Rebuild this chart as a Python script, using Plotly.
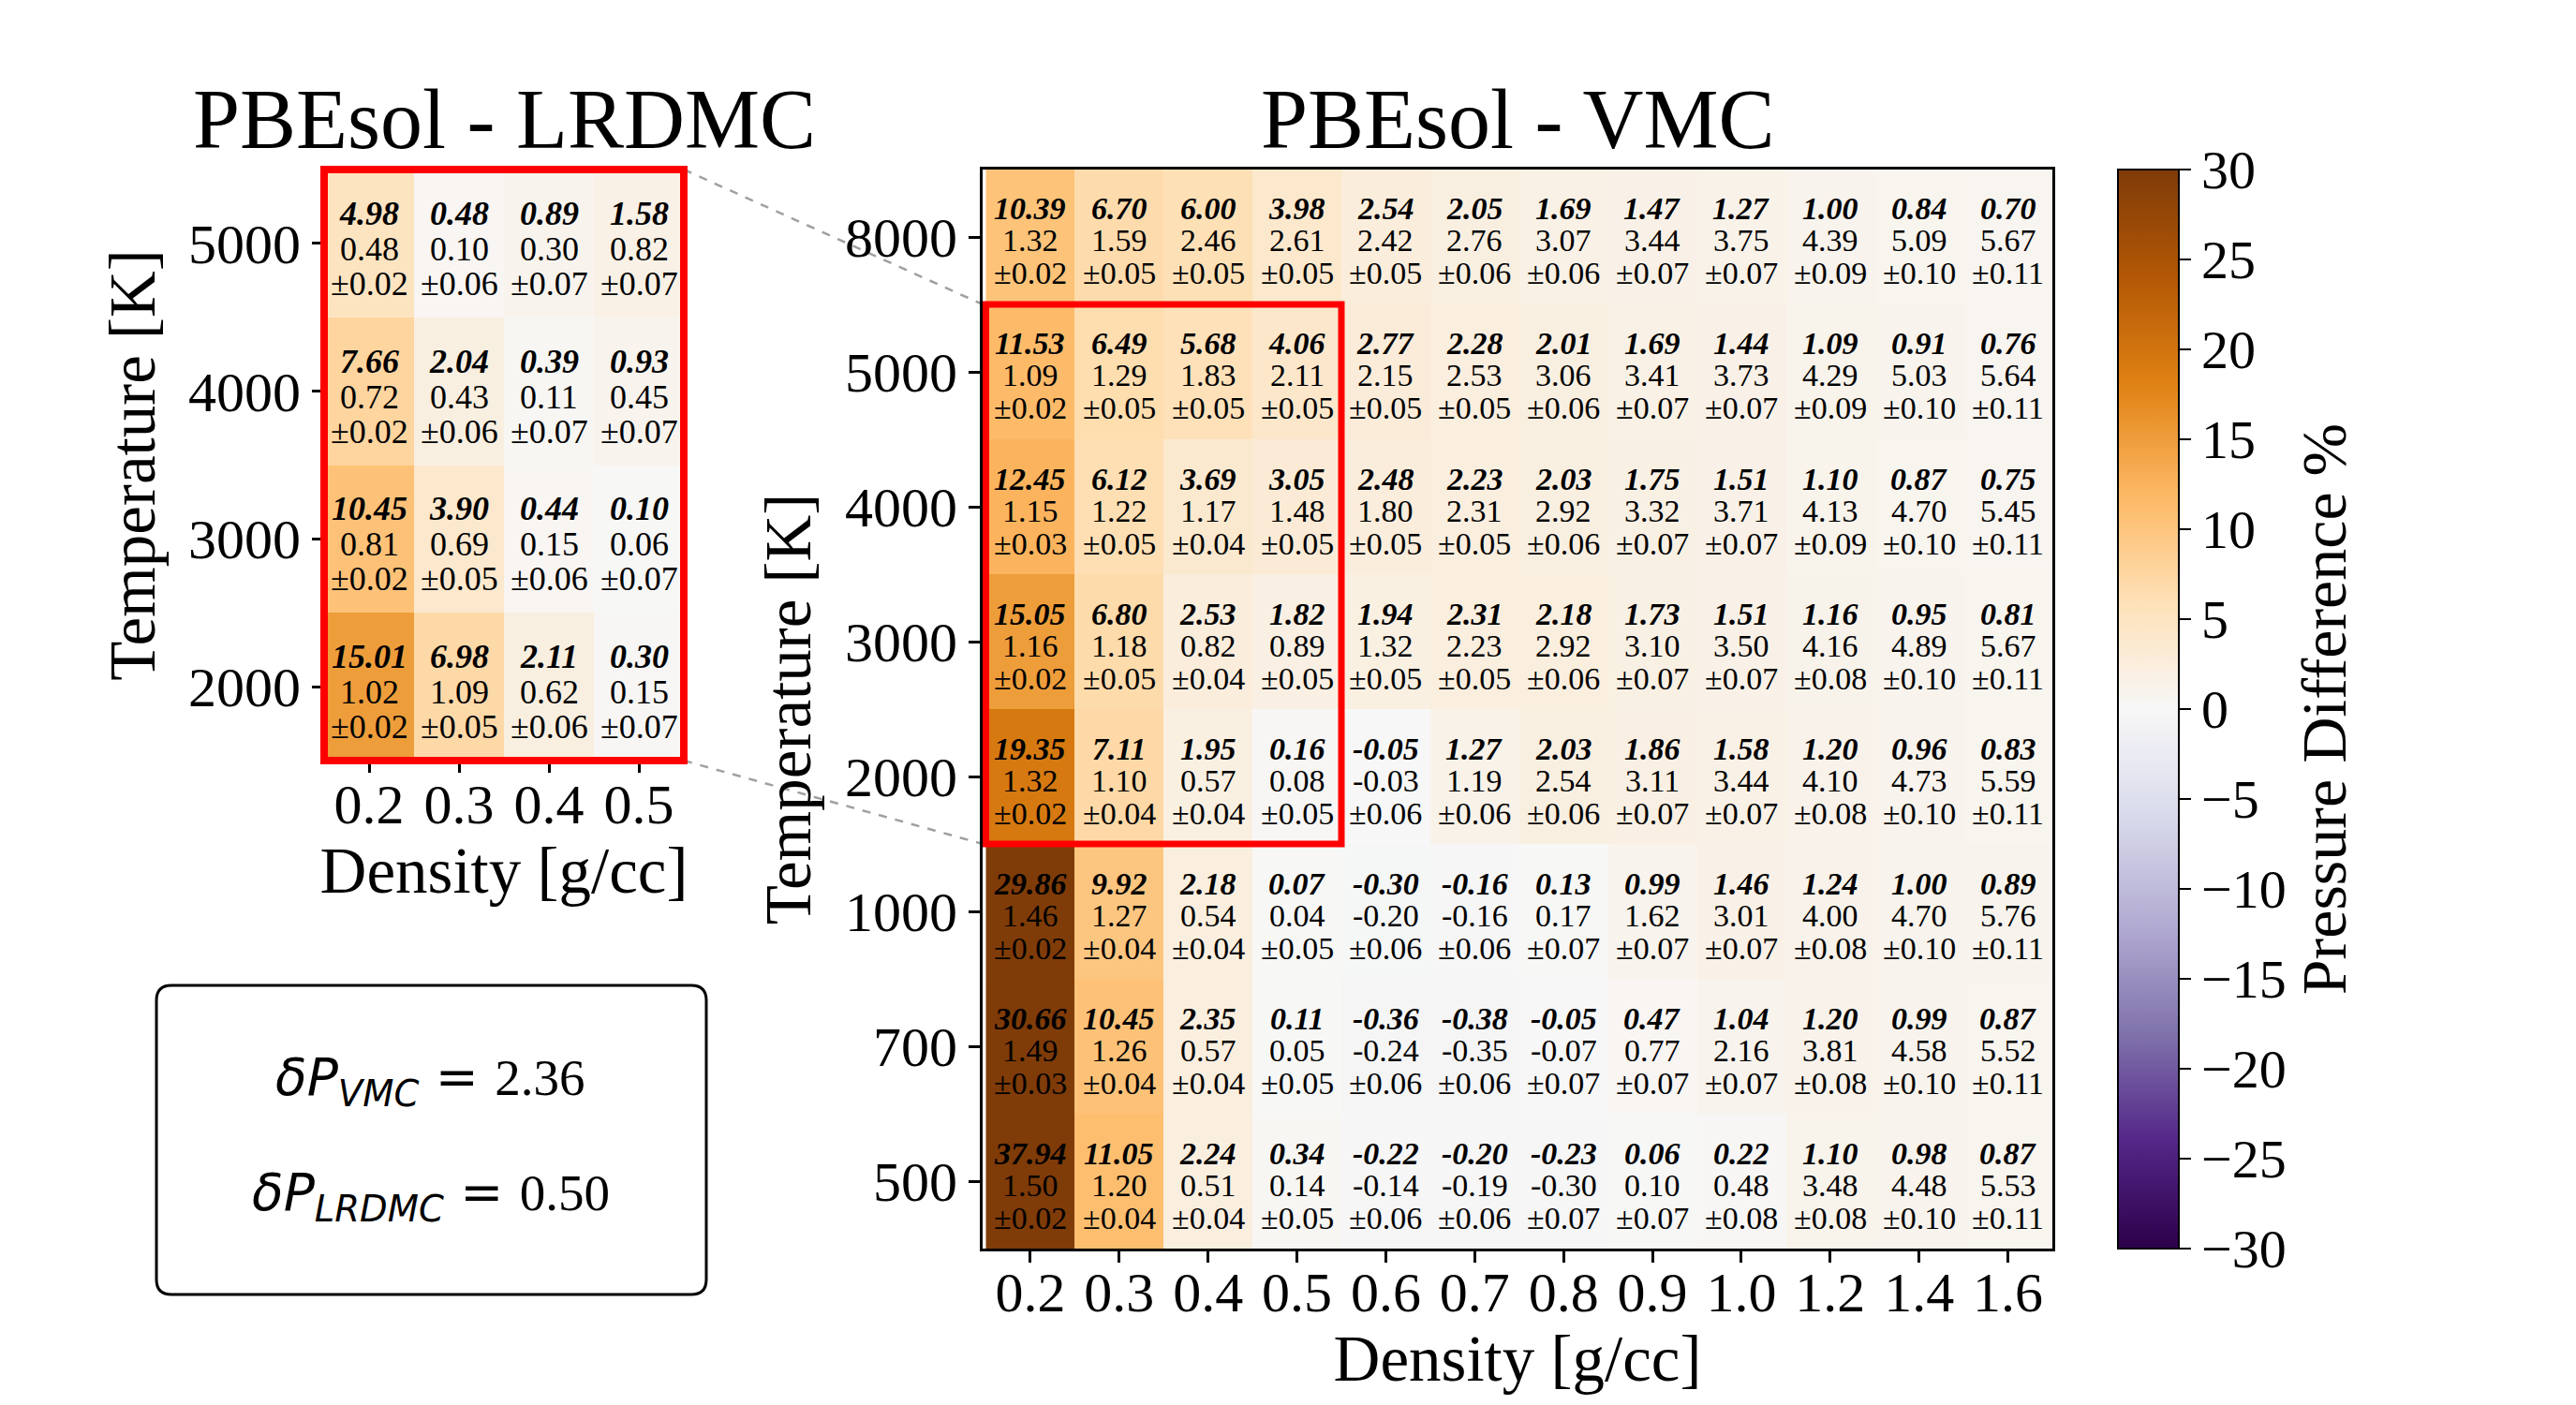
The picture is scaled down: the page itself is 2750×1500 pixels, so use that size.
import plotly.graph_objects as go

W, H = 2750, 1500
FONT = "Liberation Serif"

# ---- data -------------------------------------------------------------
density_main = ["0.2", "0.3", "0.4", "0.5", "0.6", "0.7", "0.8", "0.9", "1.0", "1.2", "1.4", "1.6"]
temps_main = ["8000", "5000", "4000", "3000", "2000", "1000", "700", "500"]

# pressure difference % (bold numbers, also the colour)
pdiff_main = [
    [10.39, 6.70, 6.00, 3.98, 2.54, 2.05, 1.69, 1.47, 1.27, 1.00, 0.84, 0.70],
    [11.53, 6.49, 5.68, 4.06, 2.77, 2.28, 2.01, 1.69, 1.44, 1.09, 0.91, 0.76],
    [12.45, 6.12, 3.69, 3.05, 2.48, 2.23, 2.03, 1.75, 1.51, 1.10, 0.87, 0.75],
    [15.05, 6.80, 2.53, 1.82, 1.94, 2.31, 2.18, 1.73, 1.51, 1.16, 0.95, 0.81],
    [19.35, 7.11, 1.95, 0.16, -0.05, 1.27, 2.03, 1.86, 1.58, 1.20, 0.96, 0.83],
    [29.86, 9.92, 2.18, 0.07, -0.30, -0.16, 0.13, 0.99, 1.46, 1.24, 1.00, 0.89],
    [30.66, 10.45, 2.35, 0.11, -0.36, -0.38, -0.05, 0.47, 1.04, 1.20, 0.99, 0.87],
    [37.94, 11.05, 2.24, 0.34, -0.22, -0.20, -0.23, 0.06, 0.22, 1.10, 0.98, 0.87],
]
# absolute difference (middle line)
absdiff_main = [
    [1.32, 1.59, 2.46, 2.61, 2.42, 2.76, 3.07, 3.44, 3.75, 4.39, 5.09, 5.67],
    [1.09, 1.29, 1.83, 2.11, 2.15, 2.53, 3.06, 3.41, 3.73, 4.29, 5.03, 5.64],
    [1.15, 1.22, 1.17, 1.48, 1.80, 2.31, 2.92, 3.32, 3.71, 4.13, 4.70, 5.45],
    [1.16, 1.18, 0.82, 0.89, 1.32, 2.23, 2.92, 3.10, 3.50, 4.16, 4.89, 5.67],
    [1.32, 1.10, 0.57, 0.08, -0.03, 1.19, 2.54, 3.11, 3.44, 4.10, 4.73, 5.59],
    [1.46, 1.27, 0.54, 0.04, -0.20, -0.16, 0.17, 1.62, 3.01, 4.00, 4.70, 5.76],
    [1.49, 1.26, 0.57, 0.05, -0.24, -0.35, -0.07, 0.77, 2.16, 3.81, 4.58, 5.52],
    [1.50, 1.20, 0.51, 0.14, -0.14, -0.19, -0.30, 0.10, 0.48, 3.48, 4.48, 5.53],
]
err_main = [
    [0.02, 0.05, 0.05, 0.05, 0.05, 0.06, 0.06, 0.07, 0.07, 0.09, 0.10, 0.11],
    [0.02, 0.05, 0.05, 0.05, 0.05, 0.05, 0.06, 0.07, 0.07, 0.09, 0.10, 0.11],
    [0.03, 0.05, 0.04, 0.05, 0.05, 0.05, 0.06, 0.07, 0.07, 0.09, 0.10, 0.11],
    [0.02, 0.05, 0.04, 0.05, 0.05, 0.05, 0.06, 0.07, 0.07, 0.08, 0.10, 0.11],
    [0.02, 0.04, 0.04, 0.05, 0.06, 0.06, 0.06, 0.07, 0.07, 0.08, 0.10, 0.11],
    [0.02, 0.04, 0.04, 0.05, 0.06, 0.06, 0.07, 0.07, 0.07, 0.08, 0.10, 0.11],
    [0.03, 0.04, 0.04, 0.05, 0.06, 0.06, 0.07, 0.07, 0.07, 0.08, 0.10, 0.11],
    [0.02, 0.04, 0.04, 0.05, 0.06, 0.06, 0.07, 0.07, 0.08, 0.08, 0.10, 0.11],
]

density_inset = ["0.2", "0.3", "0.4", "0.5"]
temps_inset = ["5000", "4000", "3000", "2000"]
pdiff_inset = [
    [4.98, 0.48, 0.89, 1.58],
    [7.66, 2.04, 0.39, 0.93],
    [10.45, 3.90, 0.44, 0.10],
    [15.01, 6.98, 2.11, 0.30],
]
absdiff_inset = [
    [0.48, 0.10, 0.30, 0.82],
    [0.72, 0.43, 0.11, 0.45],
    [0.81, 0.69, 0.15, 0.06],
    [1.02, 1.09, 0.62, 0.15],
]
err_inset = [
    [0.02, 0.06, 0.07, 0.07],
    [0.02, 0.06, 0.07, 0.07],
    [0.02, 0.05, 0.06, 0.07],
    [0.02, 0.05, 0.06, 0.07],
]

delta_vmc = 2.36
delta_lrdmc = 0.50

# matplotlib PuOr_r
puor_r = ["#2d004b", "#542788", "#8073ac", "#b2abd2", "#d8daeb", "#f7f7f7",
          "#fee0b6", "#fdb863", "#e08214", "#b35806", "#7f3b08"]
colorscale = [[i / 10, c] for i, c in enumerate(puor_r)]

# ---- layout geometry (paper fractions) --------------------------------
# the page body adds an 8px margin around the plot div
OFF = 8


def fx(px):
    return (px - OFF) / W


def fy(py):
    return 1 - (py - OFF) / H


main_dx = [fx(1049), fx(2191)]
main_dy = [fy(1333), fy(181)]
inset_dx = [fx(346), fx(730)]
inset_dy = [fy(812), fy(181)]

fig = go.Figure()

fig.add_trace(go.Heatmap(
    x=density_inset, y=temps_inset, z=pdiff_inset,
    colorscale=colorscale, zmin=-30, zmax=30, showscale=False,
    xaxis="x", yaxis="y", hoverinfo="skip",
))

fig.add_trace(go.Heatmap(
    x=density_main, y=temps_main, z=pdiff_main,
    colorscale=colorscale, zmin=-30, zmax=30,
    xaxis="x2", yaxis="y2", hoverinfo="skip",
    colorbar=dict(
        x=fx(2261), xanchor="left", y=(main_dy[0] + main_dy[1]) / 2, yanchor="middle",
        len=main_dy[1] - main_dy[0], lenmode="fraction", thickness=65,
        xpad=0, ypad=0,
        outlinewidth=2, outlinecolor="black",
        tickmode="linear", tick0=-30, dtick=5,
        ticks="outside", ticklen=12, tickwidth=2, tickcolor="black",
        tickfont=dict(family=FONT, size=58, color="black"),
        title=dict(text="Pressure Difference %", side="right",
                   font=dict(family=FONT, size=68, color="black")),
    ),
))

annotations = []


def cell_text(xs, ys, top, mid, err, xref, yref, size, shifts):
    # category axes: annotations are placed by category index
    for i in range(len(ys)):
        for j in range(len(xs)):
            lines = [f"<b><i>{top[i][j]:.2f}</i></b>", f"{mid[i][j]:.2f}", f"±{err[i][j]:.2f}"]
            for txt, sh in zip(lines, shifts):
                annotations.append(dict(
                    x=j, y=i, xref=xref, yref=yref, text=txt, showarrow=False,
                    xanchor="center", yanchor="middle", yshift=sh,
                    font=dict(family=FONT, size=size, color="black"),
                ))


cell_text(density_main, temps_main, pdiff_main, absdiff_main, err_main, "x2", "y2", 34, [30, -4, -39])
cell_text(density_inset, temps_inset, pdiff_inset, absdiff_inset, err_inset, "x", "y", 36, [32, -6, -43])

# titles
for txt, dom in [("PBEsol - VMC", main_dx), ("PBEsol - LRDMC", inset_dx)]:
    annotations.append(dict(x=sum(dom) / 2, y=fy(128), xref="paper", yref="paper",
                            text=txt, showarrow=False, xanchor="center", yanchor="middle",
                            font=dict(family=FONT, size=90, color="black")))

# delta P box text
math = 'font-family:DejaVu Sans'
for label, val, py in [("VMC", delta_vmc, 1154), ("LRDMC", delta_lrdmc, 1277)]:
    annotations.append(dict(
        x=fx(460), y=fy(py), xref="paper", yref="paper", showarrow=False,
        xanchor="center", yanchor="middle",
        text=f'<span style="{math}"><i>δP</i><sub><i>{label}</i></sub> = </span>{val:.2f}',
        font=dict(family=FONT, size=55, color="black"),
    ))

axis_common = dict(
    type="category", ticks="outside", ticklen=12, tickwidth=3, tickcolor="black",
    showgrid=False, zeroline=False, automargin=False,
    tickfont=dict(family=FONT, size=60, color="black"),
    title_font=dict(family=FONT, size=69, color="black"),
)

# shapes: red frames, dashed connectors, rounded box
ny = len(temps_main)
row_top = temps_main.index(temps_inset[0])
row_bot = temps_main.index(temps_inset[-1]) + 1
span = main_dy[1] - main_dy[0]
zoom_top = main_dy[1] - row_top / ny * span
zoom_bot = main_dy[1] - row_bot / ny * span

shapes = [
    dict(type="rect", xref="x2", yref="y2", x0=-0.5, x1=len(density_inset) - 0.5,
         y0=row_top - 0.5, y1=row_bot - 0.5, line=dict(color="red", width=7)),
    dict(type="rect", xref="paper", yref="paper", x0=inset_dx[0], x1=inset_dx[1],
         y0=inset_dy[0], y1=inset_dy[1], line=dict(color="red", width=8)),
    dict(type="line", xref="paper", yref="paper", x0=inset_dx[1], y0=inset_dy[1],
         x1=main_dx[0], y1=zoom_top, line=dict(color="#a0a0a0", width=2.5, dash="dash"), layer="below"),
    dict(type="line", xref="paper", yref="paper", x0=inset_dx[1], y0=inset_dy[0],
         x1=main_dx[0], y1=zoom_bot, line=dict(color="#a0a0a0", width=2.5, dash="dash"), layer="below"),
]

bx0, bx1, by0, by1 = fx(167), fx(754), fy(1382), fy(1052)
rx, ry = 16 / W, 16 / H
shapes.append(dict(
    type="path", xref="paper", yref="paper", line=dict(color="black", width=3),
    path=(f"M {bx0 + rx},{by1} L {bx1 - rx},{by1} Q {bx1},{by1} {bx1},{by1 - ry} "
          f"L {bx1},{by0 + ry} Q {bx1},{by0} {bx1 - rx},{by0} L {bx0 + rx},{by0} "
          f"Q {bx0},{by0} {bx0},{by0 + ry} L {bx0},{by1 - ry} Q {bx0},{by1} {bx0 + rx},{by1} Z"),
))

fig.update_layout(
    width=W, height=H,
    margin=dict(l=0, r=0, t=0, b=0),
    paper_bgcolor="white", plot_bgcolor="white",
    font=dict(family=FONT, color="black"),
    xaxis=dict(domain=inset_dx, anchor="y", ticklabelstandoff=-18,
               title=dict(text="Density [g/cc]", standoff=12), **axis_common),
    yaxis=dict(domain=inset_dy, anchor="x", autorange="reversed",
               title=dict(text="Temperature [K]", standoff=12), **axis_common),
    xaxis2=dict(domain=main_dx, anchor="y2", ticklabelstandoff=-20,
                title=dict(text="Density [g/cc]", standoff=12),
                showline=True, mirror=True, linecolor="black", linewidth=3, **axis_common),
    yaxis2=dict(domain=main_dy, anchor="x2", autorange="reversed",
                title=dict(text="Temperature [K]", standoff=14),
                showline=True, mirror=True, linecolor="black", linewidth=3, **axis_common),
    annotations=annotations,
    shapes=shapes,
)

fig.write_html("out.html")
